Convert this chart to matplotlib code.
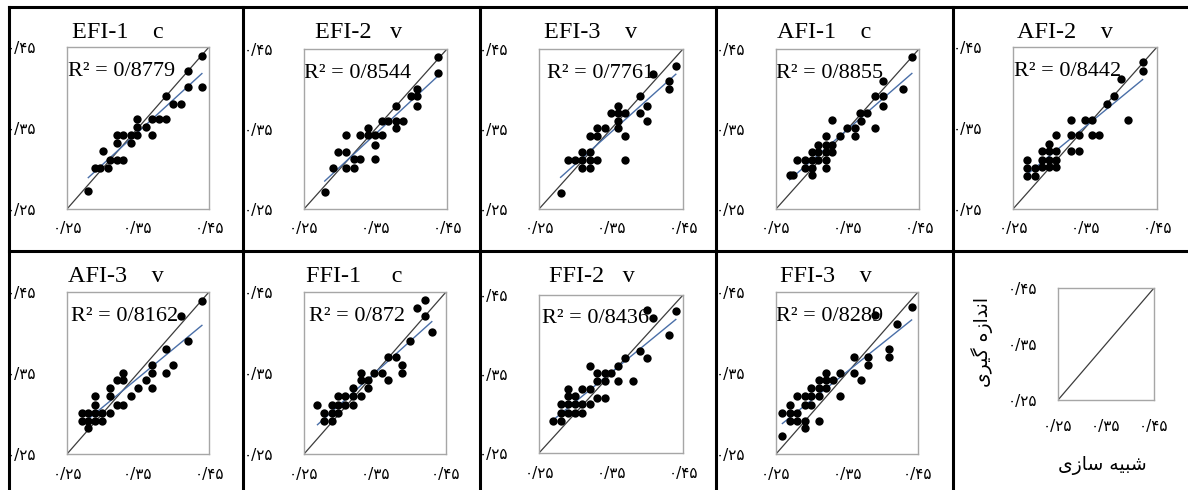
import numpy as np
import matplotlib
matplotlib.use("Agg")
import matplotlib.pyplot as plt
from matplotlib.lines import Line2D

# ---------------- data ----------------
titles = ["EFI-1    c", "EFI-2   v", "EFI-3    v", "AFI-1    c", "AFI-2    v",
          "AFI-3    v", "FFI-1     c", "FFI-2   v", "FFI-3    v"]
r2_labels = ["R\u00b2 = 0/8779", "R\u00b2 = 0/8544", "R\u00b2 = 0/7761", "R\u00b2 = 0/8855",
             "R\u00b2 = 0/8442", "R\u00b2 = 0/8162", "R\u00b2 = 0/872", "R\u00b2 = 0/8436",
             "R\u00b2 = 0/8289"]
tick_values = [0.25, 0.35, 0.45]
tick_labels = ["\u06f0/\u06f2\u06f5", "\u06f0/\u06f3\u06f5", "\u06f0/\u06f4\u06f5"]
# Persian axis titles (presentation forms, visual order)
xlabel_fa = "\uFEEF\uFEAF\uFE8E\uFEB3 \uFEEA\uFEF4\uFE92\uFEB7"          # شبیه سازی
ylabel_fa = "\uFEEF\uFEAE\uFEF4\uFB94 \uFEE9\uFEAF\uFE8D\uFEAA\uFEE7\uFE8D"  # اندازه گیری

efi1_x = [0.280, 0.289, 0.297, 0.308, 0.300, 0.310, 0.320, 0.329, 0.320, 0.329, 0.320, 0.340, 0.340, 0.349,
          0.349, 0.349, 0.361, 0.370, 0.370, 0.379, 0.389, 0.389, 0.399, 0.410, 0.420, 0.420, 0.440, 0.440]
efi1_y = [0.272, 0.301, 0.301, 0.301, 0.322, 0.311, 0.311, 0.311, 0.341, 0.341, 0.331, 0.331, 0.341, 0.341,
          0.351, 0.361, 0.351, 0.341, 0.361, 0.361, 0.361, 0.390, 0.380, 0.380, 0.400, 0.420, 0.400, 0.439]

efi2_x = [0.279, 0.290, 0.298, 0.309, 0.309, 0.309, 0.320, 0.320, 0.329, 0.329, 0.340, 0.340, 0.349, 0.359,
          0.349, 0.349, 0.359, 0.368, 0.379, 0.388, 0.379, 0.379, 0.399, 0.408, 0.408, 0.408, 0.438, 0.438]
efi2_y = [0.271, 0.301, 0.321, 0.321, 0.342, 0.301, 0.301, 0.312, 0.312, 0.342, 0.342, 0.351, 0.342, 0.342,
          0.330, 0.312, 0.360, 0.360, 0.360, 0.360, 0.351, 0.379, 0.391, 0.391, 0.400, 0.379, 0.420, 0.440]

efi3_x = [0.280, 0.290, 0.300, 0.310, 0.310, 0.310, 0.321, 0.321, 0.321, 0.330, 0.321, 0.330, 0.330, 0.341,
          0.350, 0.360, 0.370, 0.360, 0.360, 0.360, 0.370, 0.370, 0.390, 0.390, 0.400, 0.400, 0.409, 0.430,
          0.430, 0.440]
efi3_y = [0.270, 0.311, 0.311, 0.321, 0.311, 0.301, 0.301, 0.311, 0.321, 0.311, 0.341, 0.351, 0.341, 0.351,
          0.370, 0.370, 0.370, 0.379, 0.360, 0.351, 0.341, 0.311, 0.391, 0.370, 0.379, 0.360, 0.419, 0.410,
          0.400, 0.429]

afi1_x = [0.269, 0.274, 0.279, 0.290, 0.290, 0.300, 0.300, 0.300, 0.300, 0.309, 0.309, 0.309, 0.320, 0.320,
          0.320, 0.320, 0.329, 0.329, 0.320, 0.329, 0.340, 0.349, 0.360, 0.360, 0.367, 0.377, 0.369, 0.389,
          0.389, 0.399, 0.399, 0.399, 0.427, 0.440]
afi1_y = [0.292, 0.292, 0.311, 0.311, 0.301, 0.301, 0.292, 0.311, 0.321, 0.311, 0.321, 0.330, 0.330, 0.321,
          0.311, 0.301, 0.330, 0.321, 0.341, 0.361, 0.341, 0.351, 0.351, 0.341, 0.370, 0.370, 0.360, 0.351,
          0.391, 0.391, 0.379, 0.410, 0.400, 0.440]

afi2_x = [0.270, 0.270, 0.270, 0.280, 0.280, 0.290, 0.290, 0.290, 0.300, 0.300, 0.300, 0.300, 0.310, 0.310,
          0.310, 0.310, 0.330, 0.330, 0.341, 0.330, 0.341, 0.350, 0.360, 0.360, 0.370, 0.380, 0.390, 0.400,
          0.410, 0.430, 0.430]
afi2_y = [0.311, 0.300, 0.291, 0.300, 0.291, 0.321, 0.311, 0.302, 0.321, 0.311, 0.302, 0.330, 0.321, 0.311,
          0.302, 0.341, 0.360, 0.341, 0.341, 0.321, 0.321, 0.360, 0.360, 0.341, 0.341, 0.380, 0.390, 0.410,
          0.360, 0.431, 0.420]

afi3_x = [0.271, 0.271, 0.280, 0.280, 0.279, 0.290, 0.290, 0.290, 0.290, 0.299, 0.299, 0.310, 0.310, 0.310,
          0.320, 0.320, 0.329, 0.329, 0.329, 0.340, 0.350, 0.361, 0.370, 0.370, 0.370, 0.389, 0.389, 0.399,
          0.420, 0.410, 0.440]
afi3_y = [0.301, 0.291, 0.301, 0.291, 0.282, 0.311, 0.301, 0.291, 0.321, 0.301, 0.291, 0.301, 0.331, 0.321,
          0.341, 0.311, 0.341, 0.350, 0.311, 0.321, 0.331, 0.341, 0.350, 0.360, 0.331, 0.350, 0.380, 0.360,
          0.390, 0.420, 0.439]

ffi1_x = [0.269, 0.278, 0.278, 0.290, 0.290, 0.290, 0.298, 0.298, 0.298, 0.308, 0.308, 0.319, 0.319, 0.319,
          0.330, 0.330, 0.330, 0.340, 0.340, 0.349, 0.360, 0.369, 0.369, 0.379, 0.388, 0.388, 0.399, 0.409,
          0.420, 0.420, 0.430]
ffi1_y = [0.311, 0.301, 0.291, 0.291, 0.301, 0.311, 0.321, 0.311, 0.301, 0.321, 0.311, 0.321, 0.311, 0.331,
          0.321, 0.341, 0.350, 0.331, 0.341, 0.350, 0.350, 0.341, 0.370, 0.370, 0.360, 0.350, 0.390, 0.430,
          0.440, 0.420, 0.400]

ffi2_x = [0.270, 0.280, 0.280, 0.280, 0.290, 0.290, 0.290, 0.290, 0.300, 0.300, 0.300, 0.310, 0.310, 0.310,
          0.321, 0.321, 0.321, 0.330, 0.330, 0.330, 0.341, 0.341, 0.341, 0.350, 0.360, 0.360, 0.370, 0.380,
          0.390, 0.400, 0.400, 0.408, 0.430, 0.440]
ffi2_y = [0.291, 0.291, 0.301, 0.312, 0.312, 0.301, 0.322, 0.331, 0.301, 0.312, 0.322, 0.301, 0.312, 0.331,
          0.312, 0.331, 0.360, 0.320, 0.341, 0.351, 0.320, 0.341, 0.351, 0.351, 0.360, 0.341, 0.370, 0.341,
          0.379, 0.370, 0.431, 0.421, 0.400, 0.430]

ffi3_x = [0.259, 0.259, 0.270, 0.270, 0.270, 0.280, 0.280, 0.280, 0.291, 0.291, 0.291, 0.291, 0.299, 0.299,
          0.299, 0.310, 0.310, 0.310, 0.310, 0.320, 0.320, 0.320, 0.330, 0.340, 0.340, 0.360, 0.360, 0.370,
          0.380, 0.380, 0.409, 0.409, 0.420, 0.441, 0.389]
ffi3_y = [0.272, 0.301, 0.291, 0.301, 0.311, 0.291, 0.301, 0.321, 0.291, 0.282, 0.311, 0.321, 0.311, 0.321,
          0.331, 0.291, 0.321, 0.331, 0.341, 0.331, 0.341, 0.350, 0.341, 0.321, 0.350, 0.350, 0.370, 0.341,
          0.370, 0.360, 0.380, 0.370, 0.410, 0.431, 0.421]

panel_x = [efi1_x, efi2_x, efi3_x, afi1_x, afi2_x, afi3_x, ffi1_x, ffi2_x, ffi3_x]
panel_y = [efi1_y, efi2_y, efi3_y, afi1_y, afi2_y, afi3_y, ffi1_y, ffi2_y, ffi3_y]

# ---------------- layout (pixels) ----------------
W, H = 1188, 490
boxes = [(67, 209, 47, 209), (304, 447, 49, 209), (539, 683, 49, 209), (776, 919, 49, 209),
         (1013, 1157, 47, 209), (67, 209, 292, 454), (304, 446, 292, 454), (539, 683, 295, 453),
         (776, 918, 292, 454)]
title_left = [72, 315, 544, 777, 1017, 68, 306, 549, 780]
title_y = [32, 32, 32, 32, 32, 277, 277, 277, 277]
r2_xoff = [1, 0, 8, 0, 1, 4, 5, 3, 0]
legend_box = (1058, 1154, 288, 400)

fig = plt.figure(figsize=(W / 100, H / 100), dpi=100)
fig.patch.set_facecolor("white")

SERIF = ["Liberation Serif", "DejaVu Serif"]
SANS = ["DejaVu Sans"]
SPINE = "#a6a6a6"


def make_axes(box):
    l, r, t, b = box
    return fig.add_axes([l / W, 1 - b / H, (r - l) / W, (b - t) / H])


def style(ax, ypad, xpad):
    ax.set_xlim(0.25, 0.45)
    ax.set_ylim(0.25, 0.45)
    ax.set_xticks(tick_values)
    ax.set_yticks(tick_values)
    ax.set_xticklabels(tick_labels, family=SANS, fontsize=11)
    ax.set_yticklabels(tick_labels, family=SANS, fontsize=11)
    ax.tick_params(axis="y", length=0, pad=ypad)
    ax.tick_params(axis="x", length=0, pad=xpad)
    for s in ax.spines.values():
        s.set_color(SPINE)
        s.set_linewidth(1.0)
    ax.set_facecolor("white")


for i in range(9):
    ax = make_axes(boxes[i])
    style(ax, 22, 9)
    x = np.array(panel_x[i])
    y = np.array(panel_y[i])
    ax.plot(tick_values, tick_values, color="#3c3c3c", lw=0.9, zorder=2)
    m, c = np.polyfit(x, y, 1)
    xs = np.array([x.min(), x.max()])
    ax.plot(xs, m * xs + c, color="#4a6fa8", lw=1.0, zorder=2)
    ax.scatter(x, y, s=36, color="black", linewidths=0, zorder=3)
    l, r, t, b = boxes[i]
    ax.text(r2_xoff[i] / (r - l), 0.85, r2_labels[i], transform=ax.transAxes,
            family=SERIF, fontsize=16, va="center", ha="left", zorder=1)
    fig.text(title_left[i] / W, 1 - title_y[i] / H, titles[i], family=SERIF,
             fontsize=17.5, ha="left", va="center")

# legend panel
lax = make_axes(legend_box)
style(lax, 15, 14)
lax.plot(tick_values, tick_values, color="#3c3c3c", lw=0.9)
fig.text(1102 / W, 1 - 465 / H, xlabel_fa, family=SANS, fontsize=13.5, ha="center", va="center")
fig.text(982 / W, 1 - 342 / H, ylabel_fa, family=SANS, fontsize=13.5, ha="center", va="center",
         rotation=90)

# grid frame lines
lw = 2.2
for xv in [9, 243, 480, 716, 953]:
    fig.add_artist(Line2D([xv / W, xv / W], [0, 1 - 7 / H], color="black", lw=lw,
                          transform=fig.transFigure))
for yv in [7, 251]:
    fig.add_artist(Line2D([9 / W, 1], [1 - yv / H, 1 - yv / H], color="black", lw=lw,
                          transform=fig.transFigure))

fig.savefig("out.png", dpi=100, facecolor="white")
